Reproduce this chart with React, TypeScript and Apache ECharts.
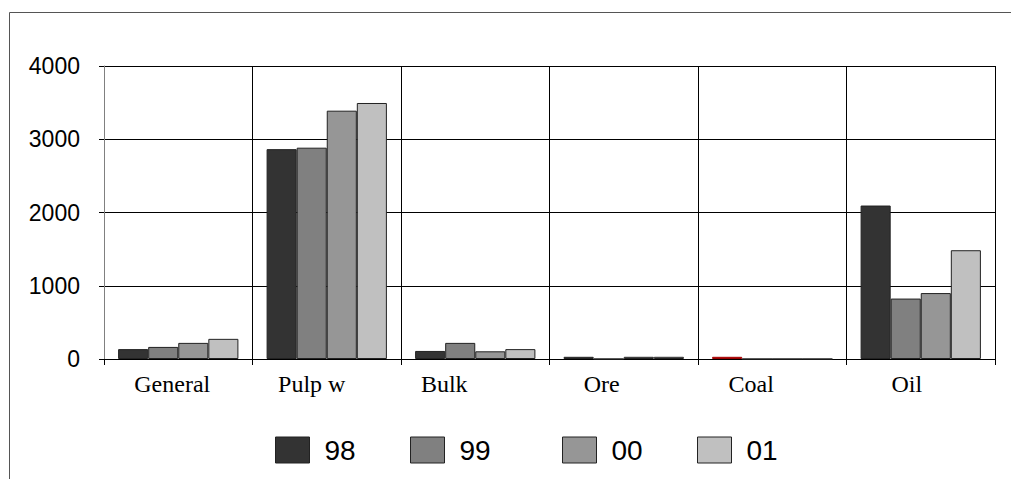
import React, { useEffect, useRef } from "react";
import * as echarts from "echarts";

// Cargo categories along the x axis
const categories = ["General", "Pulp w", "Bulk", "Ore", "Coal", "Oil"];

// Yearly volumes per category
const years = ["98", "99", "00", "01"];
const values98 = [135, 2865, 110, 30, 30, 2095];
const values99 = [165, 2885, 220, 0, 0, 825];
const values00 = [220, 3390, 105, 30, 0, 900];
const values01 = [275, 3495, 135, 30, 0, 1485];

const yTicks = [0, 1000, 2000, 3000, 4000];

const seriesValues = [values98, values99, values00, values01];
const seriesColors = ["#333333", "#808080", "#969696", "#c0c0c0"];

// The Coal bar of '98 is drawn in red
const redCategory = "Coal";
const redYear = "98";

// Horizontal nudges (px, to the left) for individual category labels
const labelShift = [6, 15, 31, 22, 21, 14];

// Left edge of each legend entry
const legendLeft = [275, 410, 562, 697];

export default function App() {
  const ref = useRef<HTMLDivElement>(null);

  useEffect(() => {
    if (!ref.current) return;
    const chart = echarts.init(ref.current, null, { renderer: "svg" });

    const series = years.map((y, si) => ({
      name: y,
      type: "bar" as const,
      barGap: "0%",
      barCategoryGap: "19%",
      itemStyle: {
        color: seriesColors[si],
        borderColor: "#222",
        borderWidth: 1,
      },
      data: seriesValues[si].map((v, ci) =>
        y === redYear && categories[ci] === redCategory
          ? { value: v, itemStyle: { color: "#ff0000", borderColor: "#990000" } }
          : v
      ),
    }));

    const legends = years.map((y, i) => ({
      data: [y],
      left: legendLeft[i],
      top: 436,
      padding: 0,
      itemWidth: 34,
      itemHeight: 26,
      icon: "rect",
      itemStyle: { borderColor: "#222", borderWidth: 1 },
      textStyle: {
        fontFamily: "Liberation Sans, Arial, sans-serif",
        fontSize: 28,
        color: "#000",
        padding: [12, 0, 0, 10],
      },
      selectedMode: false,
    }));

    chart.setOption({
      animation: false,
      backgroundColor: "#fff",
      graphic: [
        {
          type: "rect",
          shape: { x: 9.5, y: 12.5, width: 1200, height: 800 },
          style: { fill: "none", stroke: "#555", lineWidth: 1 },
          silent: true,
          z: 0,
        },
      ],
      grid: { left: 104, right: 16, top: 66, bottom: 120 },
      legend: legends,
      xAxis: {
        type: "category",
        data: categories.map((c, i) => ({
          value: c,
          textStyle: { padding: [0, labelShift[i] * 2, 0, 0] },
        })),
        axisLine: { lineStyle: { color: "#000", width: 1 } },
        axisTick: { show: true, length: 6, inside: false, lineStyle: { color: "#000" } },
        axisLabel: {
          fontFamily: "Liberation Serif, Times New Roman, serif",
          fontSize: 24,
          color: "#000",
          margin: 13,
        },
        splitLine: { show: true, lineStyle: { color: "#000", width: 1 } },
      },
      yAxis: {
        type: "value",
        min: yTicks[0],
        max: yTicks[yTicks.length - 1],
        interval: yTicks[1] - yTicks[0],
        axisLine: { show: true, lineStyle: { color: "#808080", width: 1 } },
        axisTick: { show: true, length: 5, inside: false, lineStyle: { color: "#000" } },
        axisLabel: {
          fontFamily: "Liberation Sans, Arial, sans-serif",
          fontSize: 23,
          color: "#000",
          margin: 24,
          formatter: (v: number) => String(v),
        },
        splitLine: { show: true, lineStyle: { color: "#000", width: 1 } },
      },
      series,
    });

    return () => chart.dispose();
  }, []);

  return (
    <div
      ref={ref}
      style={{ position: "fixed", left: 0, top: 0, width: 1011, height: 479 }}
    />
  );
}
